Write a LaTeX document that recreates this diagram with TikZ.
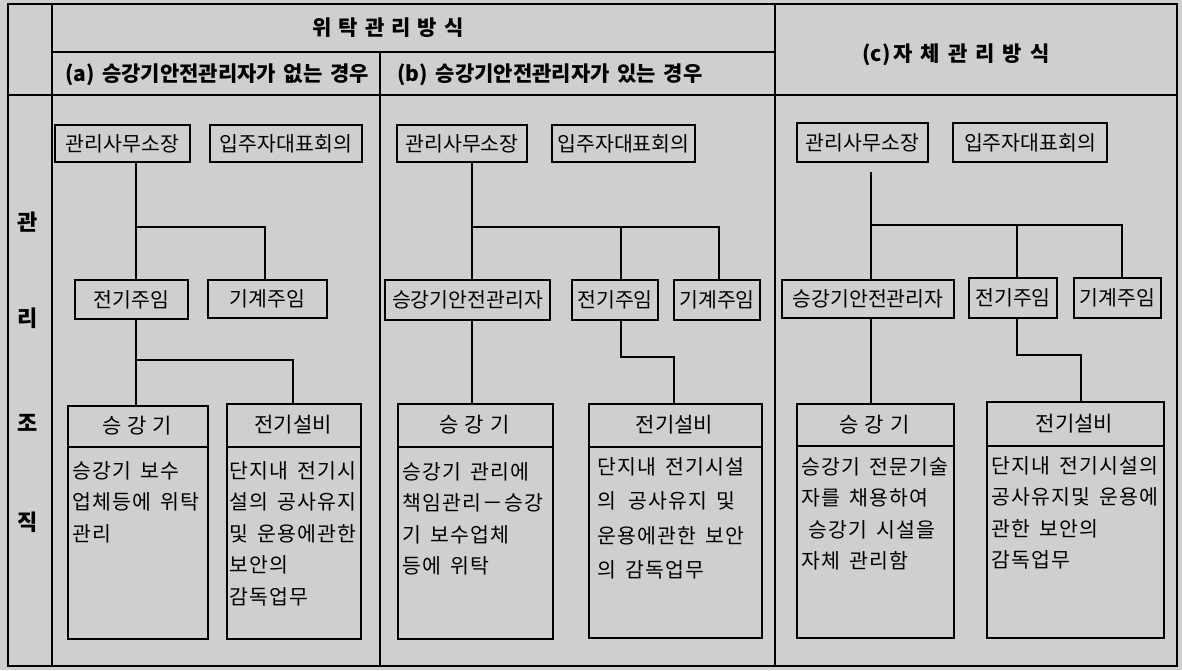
\documentclass[tikz,border=0pt]{standalone}
\usepackage{fontspec}
\setmainfont{Noto Sans CJK KR}[WordSpace=1.6]
\newfontfamily\bodyfont{Noto Sans CJK KR}[WordSpace=1.6, LetterSpace=6]
\definecolor{bg}{gray}{0.81}
\tikzset{
  frame/.style={line width=1.8pt},
  rule/.style={line width=1.5pt},
  lbl/.style={draw, line width=1.5pt, inner sep=0pt, font=\fontsize{20.5}{24}\selectfont},
  tall/.style={draw, line width=1.5pt, inner sep=0pt, anchor=north west},
  link/.style={line width=1.4pt},
  head/.style={font=\bfseries\fontsize{21}{24}\selectfont, inner sep=0pt},
  side/.style={font=\bfseries\fontsize{22}{24}\selectfont, inner sep=0pt},
  ttl/.style={font=\fontsize{21}{24}\selectfont, inner sep=0pt},
  body/.style={font=\bodyfont\fontsize{20.5}{31.5}\selectfont, align=left, anchor=north west, inner sep=0pt},
  bodyw/.style={font=\bodyfont\fontsize{20.5}{34.5}\selectfont, align=left, anchor=north west, inner sep=0pt},
}
\begin{document}
\begin{tikzpicture}[x=1pt, y=-1pt]
\useasboundingbox (0,0) rectangle (1182,670);
\fill[bg] (0,0) rectangle (1182,670);

% table frame and rules
\draw[frame] (8,4) rectangle (1177,666);
\draw[rule] (52,4) -- (52,666);
\draw[rule] (52,52) -- (775,52);
\draw[rule] (8,95) -- (1177,95);
\draw[rule] (380,52) -- (380,666);
\draw[rule] (775,4) -- (775,666);

% headings
\node[head] (t_w) at (388,28) {위\hspace{7pt}탁\hspace{7pt}관\hspace{7pt}리\hspace{7pt}방\hspace{7pt}식};
\node[head] (t_a) at (217,75) {(a) 승강기안전관리자가 없는 경우};
\node[head] (t_b) at (550,75) {(b) 승강기안전관리자가 있는 경우};
\node[head] (t_c) at (956,55) {(c)\hspace{3pt}자\hspace{8pt}체\hspace{8pt}관\hspace{8pt}리\hspace{8pt}방\hspace{8pt}식};

% side labels
\node[side] (s1) at (28,222) {관};
\node[side] (s2) at (28,318) {리};
\node[side] (s3) at (28,423) {조};
\node[side] (s4) at (28,522) {직};

% ---------- column (a) ----------
\node[lbl, minimum width=135pt, minimum height=37pt] (a_mgr) at (122.5,143.5) {관리사무소장};
\node[lbl, minimum width=152pt, minimum height=37pt] (a_res) at (286,143.5) {입주자대표회의};
\node[lbl, minimum width=113pt, minimum height=39pt] (a_elec) at (131.5,299.5) {전기주임};
\node[lbl, minimum width=119pt, minimum height=38pt] (a_mech) at (267.5,299) {기계주임};

\node[tall, minimum width=140pt, minimum height=233pt] (a_lift) at (67,405) {};
\draw[rule] (a_lift.west |- 0,447) -- (a_lift.east |- 0,447);
\node[ttl] (a_lift_t) at (137,426) {승\hspace{6pt}강\hspace{6pt}기};
\node[body] (a_lift_b) at (72,461) {승강기 보수\\업체등에 위탁\\관리};

\node[tall, minimum width=134pt, minimum height=235pt] (a_eqp) at (226,403) {};
\draw[rule] (a_eqp.west |- 0,447) -- (a_eqp.east |- 0,447);
\node[ttl] (a_eqp_t) at (293,425) {전기설비};
\node[body] (a_eqp_b) at (229,461) {단지내 전기시\\설의 공사유지\\및 운용에관한\\보안의\\감독업무};

\coordinate (ja1) at (136,227);
\coordinate (ja2) at (265,227);
\coordinate (ja3) at (136,360);
\coordinate (ja4) at (293,360);
\draw[link] (a_mgr.south -| ja1) -- (a_elec.north -| ja1);
\draw[link] (ja1) -- (ja2) -- (a_mech.north -| ja2);
\draw[link] (a_elec.south -| ja3) -- (a_lift.north -| ja3);
\draw[link] (ja3) -- (ja4) -- (a_eqp.north -| ja4);

% ---------- column (b) ----------
\node[lbl, minimum width=130pt, minimum height=37pt] (b_mgr) at (462,143.5) {관리사무소장};
\node[lbl, minimum width=143pt, minimum height=37pt] (b_res) at (623.5,143.5) {입주자대표회의};
\node[lbl, minimum width=165pt, minimum height=40pt] (b_safe) at (467.5,300) {승강기안전관리자};
\node[lbl, minimum width=86pt, minimum height=40pt] (b_elec) at (615,300) {전기주임};
\node[lbl, minimum width=86pt, minimum height=40pt] (b_mech) at (717,300) {기계주임};

\node[tall, minimum width=155pt, minimum height=235pt] (b_lift) at (397,403) {};
\draw[rule] (b_lift.west |- 0,447) -- (b_lift.east |- 0,447);
\node[ttl] (b_lift_t) at (474.5,425) {승\hspace{6pt}강\hspace{6pt}기};
\node[body] (b_lift_b) at (402,462) {승강기 관리에\\책임관리－승강\\기 보수업체\\등에 위탁};

\node[tall, minimum width=173pt, minimum height=234pt] (b_eqp) at (588,403) {};
\draw[rule] (b_eqp.west |- 0,447) -- (b_eqp.east |- 0,447);
\node[ttl] (b_eqp_t) at (674.5,425) {전기설비};
\node[bodyw] (b_eqp_b) at (597,457) {단지내 전기시설\\의\hspace{12pt}공사유지 및\\운용에관한 보안\\의 감독업무};

\coordinate (jb1) at (472,227);
\coordinate (jb2) at (621,227);
\coordinate (jb3) at (719,227);
\coordinate (jb4) at (621,357);
\coordinate (jb5) at (674,357);
\draw[link] (b_mgr.south -| jb1) -- (b_safe.north -| jb1);
\draw[link] (jb1) -- (jb3) -- (b_mech.north -| jb3);
\draw[link] (jb2) -- (b_elec.north -| jb2);
\draw[link] (b_safe.south -| jb1) -- (b_lift.north -| jb1);
\draw[link] (b_elec.south -| jb4) -- (jb4) -- (jb5) -- (b_eqp.north -| jb5);

% ---------- column (c) ----------
\node[lbl, minimum width=131pt, minimum height=39pt] (c_mgr) at (862.5,142.5) {관리사무소장};
\node[lbl, minimum width=154pt, minimum height=39pt] (c_res) at (1030,142.5) {입주자대표회의};
\node[lbl, minimum width=172pt, minimum height=38pt] (c_safe) at (868,299) {승강기안전관리자};
\node[lbl, minimum width=88pt, minimum height=40pt] (c_elec) at (1013,298) {전기주임};
\node[lbl, minimum width=87pt, minimum height=40pt] (c_mech) at (1117.5,298) {기계주임};

\node[tall, minimum width=157pt, minimum height=234pt] (c_lift) at (796,403) {};
\draw[rule] (c_lift.west |- 0,446) -- (c_lift.east |- 0,446);
\node[ttl] (c_lift_t) at (874.5,424.5) {승\hspace{6pt}강\hspace{6pt}기};
\node[body] (c_lift_b) at (801,457) {승강기 전문기술\\자를 채용하여\\\hspace*{7pt}승강기 시설을\\자체 관리함};

\node[tall, minimum width=177pt, minimum height=236pt] (c_eqp) at (986,401) {};
\draw[rule] (c_eqp.west |- 0,446) -- (c_eqp.east |- 0,446);
\node[ttl] (c_eqp_t) at (1074.5,423.5) {전기설비};
\node[body] (c_eqp_b) at (991,456) {단지내 전기시설의\\공사유지및 운용에\\관한 보안의\\감독업무};

\coordinate (jc0) at (871,172);
\coordinate (jc1) at (871,225);
\coordinate (jc2) at (1017,225);
\coordinate (jc3) at (1122,225);
\coordinate (jc4) at (1017,355);
\coordinate (jc5) at (1081,355);
\draw[link] (jc0) -- (c_safe.north -| jc1);
\draw[link] (jc1) -- (jc3) -- (c_mech.north -| jc3);
\draw[link] (jc2) -- (c_elec.north -| jc2);
\draw[link] (c_safe.south -| jc1) -- (c_lift.north -| jc1);
\draw[link] (c_elec.south -| jc4) -- (jc4) -- (jc5) -- (c_eqp.north -| jc5);
\end{tikzpicture}
\end{document}
